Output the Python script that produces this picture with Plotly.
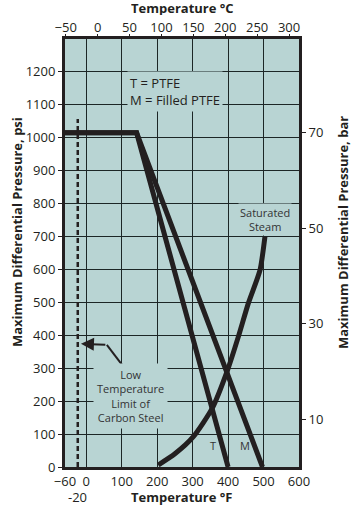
import plotly.graph_objects as go

# ---------------- data ----------------
temp_f_ticks = [-60, 0, 100, 200, 300, 400, 500, 600]
temp_c_ticks = [-50, 0, 50, 100, 150, 200, 250, 300]
psi_ticks = [0, 100, 200, 300, 400, 500, 600, 700, 800, 900, 1000, 1100, 1200]
bar_ticks = [10, 30, 50, 70]

# PTFE seat rating (T)
ptfe_t_f = [-60, 142, 400]
ptfe_t_psi = [1015, 1015, 0]
# Filled PTFE seat rating (M)
ptfe_m_f = [-60, 142, 497]
ptfe_m_psi = [1015, 1015, 0]

# Saturated steam curve
steam_f = [203, 250, 302, 355, 398, 429, 457, 490, 504]
steam_psi = [6, 40, 92, 178, 293, 396, 497, 598, 700]

# Low temperature limit of carbon steel
carbon_limit_f = [-24, -24]
carbon_limit_psi = [0, 1057]

# leader line of the callout (start -> bend), arrow tip
leader_f = [101, 58]
leader_psi = [310, 371]
arrow_tip = (-15, 374)

PSI_PER_BAR = 14.5038
F_MIN, F_MAX = -60, 600
PSI_MAX = 1300

BG = "#b8d4d3"
INK = "#231f20"
GRID = "#1c2626"
FONT = "Open Sans, Noto Sans, sans-serif"

fig = go.Figure()

fig.add_trace(go.Scatter(x=carbon_limit_f, y=carbon_limit_psi, mode="lines",
                         line=dict(color=INK, width=2.5, dash="5px,3px"), hoverinfo="skip"))
fig.add_trace(go.Scatter(x=ptfe_t_f, y=ptfe_t_psi, mode="lines",
                         line=dict(color=INK, width=5), hoverinfo="skip"))
fig.add_trace(go.Scatter(x=ptfe_m_f, y=ptfe_m_psi, mode="lines",
                         line=dict(color=INK, width=5), hoverinfo="skip"))
fig.add_trace(go.Scatter(x=steam_f, y=steam_psi, mode="lines",
                         line=dict(color=INK, width=5, shape="spline", smoothing=0.6),
                         hoverinfo="skip"))
fig.add_trace(go.Scatter(x=leader_f, y=leader_psi, mode="lines",
                         line=dict(color=INK, width=2), hoverinfo="skip"))
# invisible trace to activate the secondary axes
fig.add_trace(go.Scatter(x=[0], y=[0], xaxis="x2", yaxis="y2", mode="markers",
                         marker=dict(opacity=0), hoverinfo="skip"))

C = dict(xanchor="center", yanchor="middle")
annotations = [
    dict(x=arrow_tip[0], y=arrow_tip[1], ax=leader_f[1], ay=leader_psi[1],
         xref="x", yref="y", axref="x", ayref="y", text="", showarrow=True,
         arrowhead=2, arrowsize=1.3, arrowwidth=2, arrowcolor=INK, standoff=0),
    dict(x=114, y=1142, xref="x", yref="y", xanchor="left", yanchor="middle",
         text="T = PTFE<br>M = Filled PTFE", showarrow=False, align="left",
         font=dict(family=FONT, size=13, color=INK), bgcolor=BG, borderpad=2),
    dict(x=126, y=217, xref="x", yref="y", **C,
         text="Low<br>Temperature<br>Limit of<br>Carbon Steel", showarrow=False,
         align="center", font=dict(family=FONT, size=11, color="#333"),
         bgcolor=BG, borderpad=3),
    dict(x=503, y=752, xref="x", yref="y", **C,
         text="Saturated<br>Steam", showarrow=False, align="center",
         font=dict(family=FONT, size=11, color="#333"), bgcolor=BG, borderpad=1),
    dict(x=357, y=64, xref="x", yref="y", text="T", showarrow=False, **C,
         font=dict(family=FONT, size=11, color="#333")),
    dict(x=447, y=64, xref="x", yref="y", text="M", showarrow=False, **C,
         font=dict(family=FONT, size=11, color="#333")),
    dict(x=-24, y=-0.069, xref="x", yref="paper", text="-20", showarrow=False, **C,
         font=dict(family=FONT, size=13, color=INK)),
    dict(x=0.5, y=1.0725, xref="paper", yref="paper", text="<b>Temperature °C</b>",
         showarrow=False, **C, height=14, borderpad=0,
         font=dict(family=FONT, size=13, color=INK)),
    dict(x=0.5, y=-0.0701, xref="paper", yref="paper", text="<b>Temperature °F</b>",
         showarrow=False, **C, font=dict(family=FONT, size=13, color=INK)),
    dict(x=-0.205, y=0.549, xref="paper", yref="paper", textangle=-90, **C,
         text="<b>Maximum Differential Pressure, psi</b>", showarrow=False,
         font=dict(family=FONT, size=13, color=INK)),
    dict(x=1.188, y=0.549, xref="paper", yref="paper", textangle=-90, **C,
         text="<b>Maximum Differential Pressure, bar</b>", showarrow=False,
         font=dict(family=FONT, size=13, color=INK)),
]

tickfont = dict(family=FONT, size=13, color=INK)

fig.update_layout(
    width=356, height=509,
    margin=dict(l=65, r=57, t=39, b=42),
    paper_bgcolor="white", plot_bgcolor=BG,
    showlegend=False,
    annotations=annotations,
    xaxis=dict(range=[F_MIN, F_MAX], tickvals=temp_f_ticks, showgrid=True,
               gridcolor=GRID, gridwidth=1.4, zeroline=False, showline=True,
               mirror=True, linecolor=INK, linewidth=3, ticks="",
               tickfont=tickfont, automargin=False),
    xaxis2=dict(overlaying="x", side="top",
                range=[(F_MIN - 32) / 1.8, (F_MAX - 32) / 1.8],
                tickvals=temp_c_ticks, ticks="outside", ticklen=4, tickcolor=INK,
                ticklabelstandoff=-3,
                showgrid=False, zeroline=False, showline=False, tickfont=tickfont,
                automargin=False),
    yaxis=dict(range=[0, PSI_MAX], tickvals=psi_ticks, showgrid=True,
               gridcolor=GRID, gridwidth=1.4, zeroline=False, showline=True,
               mirror=True, linecolor=INK, linewidth=3, ticks="outside",
               ticklen=4, tickcolor=INK, tickfont=tickfont, automargin=False),
    yaxis2=dict(overlaying="y", side="right", range=[0, PSI_MAX / PSI_PER_BAR],
                tickvals=bar_ticks, ticks="outside", ticklen=6, tickcolor=INK,
                showgrid=False, zeroline=False, showline=False, tickfont=tickfont,
                automargin=False),
)

fig.write_html("out.html", config={"displayModeBar": False},
               post_script="document.body.style.margin='0';document.body.style.overflow='hidden';")
